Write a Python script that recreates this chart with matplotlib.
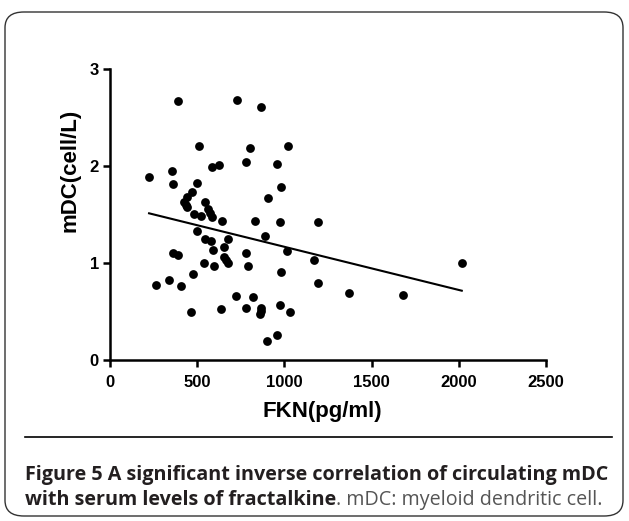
import matplotlib
matplotlib.use("Agg")
import matplotlib.pyplot as plt
import numpy as np
from matplotlib.patches import FancyBboxPatch
from matplotlib.lines import Line2D

# ---- data ----
fkn = [391, 730, 868, 511, 805, 1023, 586, 626, 782, 960,
       356, 224, 362, 500, 983, 908, 471, 443, 425, 437,
       443, 546, 563, 575, 586, 483, 523, 644, 833, 977,
       1190, 500, 891, 546, 580, 678, 1017, 782, 592, 655,
       362, 391, 655, 667, 678, 1167, 540, 598, 793, 2017,
       983, 477, 339, 264, 408, 1190, 1368, 1678, 724, 822,
       466, 638, 782, 868, 868, 862, 977, 1034, 960, 902]
mdc = [2.67, 2.68, 2.61, 2.21, 2.19, 2.21, 1.99, 2.01, 2.04, 2.02,
       1.95, 1.89, 1.81, 1.82, 1.78, 1.67, 1.73, 1.68, 1.63, 1.60,
       1.58, 1.63, 1.56, 1.52, 1.47, 1.51, 1.48, 1.43, 1.43, 1.42,
       1.42, 1.33, 1.28, 1.25, 1.23, 1.25, 1.12, 1.10, 1.13, 1.16,
       1.10, 1.08, 1.06, 1.03, 1.00, 1.03, 1.00, 0.97, 0.97, 1.00,
       0.91, 0.89, 0.82, 0.77, 0.76, 0.79, 0.69, 0.67, 0.66, 0.65,
       0.49, 0.53, 0.54, 0.54, 0.51, 0.47, 0.57, 0.49, 0.26, 0.20]
fit_slope = -0.000445
fit_intercept = 1.612
x_ticks = [0, 500, 1000, 1500, 2000, 2500]
y_ticks = [0, 1, 2, 3]
x_label = "FKN(pg/ml)"
y_label = "mDC(cell/L)"
caption_bold_1 = "Figure 5 A significant inverse correlation of circulating mDC"
caption_bold_2 = "with serum levels of fractalkine"
caption_regular = ". mDC: myeloid dendritic cell."

W, H = 629, 521
fig = plt.figure(figsize=(W / 100, H / 100), dpi=100)
fig.patch.set_facecolor("white")

# rounded frame around the whole figure
frame = FancyBboxPatch((5 / W, 5 / H), (W - 11) / W, (H - 17) / H,
                       boxstyle="round,pad=0,rounding_size=0.03",
                       transform=fig.transFigure, facecolor="none",
                       edgecolor="#333333", linewidth=1.0)
fig.patches.append(frame)

ax = fig.add_axes([110 / W, 1 - 360 / H, 436 / W, 291 / H])
ax.scatter(fkn, mdc, s=40, color="black", zorder=3, linewidths=0)
xf = np.array([min(fkn), max(fkn)])
ax.plot(xf, fit_intercept + fit_slope * xf, color="black", lw=1.5)

ax.set_xlim(0, 2500)
ax.set_ylim(0, 3)
ax.set_xticks(x_ticks)
ax.set_yticks(y_ticks)
for s in ["top", "right"]:
    ax.spines[s].set_visible(False)
for s in ["left", "bottom"]:
    ax.spines[s].set_linewidth(1.8)
ax.tick_params(direction="out", length=5, width=1.8, pad=3)
ax.tick_params(axis="x", pad=6)
for lab in ax.get_xticklabels() + ax.get_yticklabels():
    lab.set_family("Liberation Sans")
    lab.set_fontweight("bold")
    lab.set_fontsize(12)

lab_kw = dict(fontfamily="Liberation Sans", fontweight="bold", fontsize=16)
fig.text(322 / W, 1 - 411 / H, x_label, ha="center", va="center", **lab_kw)
fig.text(70 / W, 1 - 170 / H, y_label, ha="center", va="center",
         rotation=90, **lab_kw)

# rule under the plot
fig.add_artist(Line2D([25 / W, 612 / W], [1 - 437 / H, 1 - 437 / H],
                      transform=fig.transFigure, color="black", lw=1.2))

# caption
cap_kw = dict(fontfamily="Open Sans", fontsize=14.2)
fig.text(25 / W, 1 - 480 / H, caption_bold_1, fontweight="bold",
         color="#231f20", va="baseline", **cap_kw)
t2 = fig.text(25 / W, 1 - 505 / H, caption_bold_2, fontweight="bold",
              color="#231f20", va="baseline", **cap_kw)
fig.canvas.draw()
bb = t2.get_window_extent()
fig.text(bb.x1 / W, 1 - 505 / H, caption_regular, color="#555555",
         va="baseline", **cap_kw)

fig.savefig("out.png", dpi=100)
